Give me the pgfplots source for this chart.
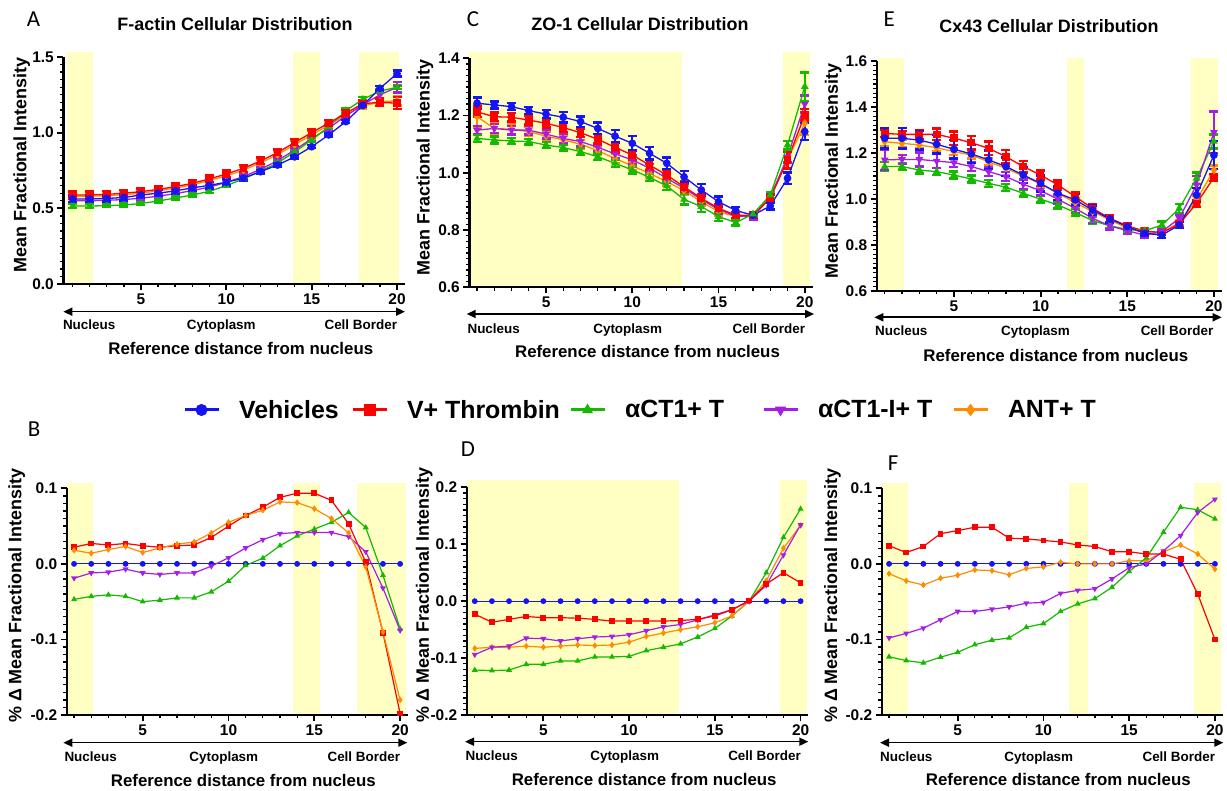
\documentclass[border=0pt]{standalone}
\usepackage{fontspec}
\setmainfont{Liberation Sans}
\newfontfamily\carlito{Carlito}
\usepackage{pgfplots}
\usepackage{pgfplotstable}
\pgfplotsset{compat=1.18}
\usetikzlibrary{arrows.meta}

\definecolor{cveh}{RGB}{20,20,245}
\definecolor{cthr}{RGB}{255,0,0}
\definecolor{cact}{RGB}{20,185,0}
\definecolor{cacti}{RGB}{165,30,230}
\definecolor{cant}{RGB}{255,140,0}
\definecolor{band}{RGB}{255,255,196}

\newcommand\tickfont{\fontsize{15.5}{16}\selectfont\bfseries}
\newcommand\titlefont{\fontsize{18}{20}\selectfont\bfseries}
\newcommand\labfont{\fontsize{16.9}{18}\selectfont\bfseries}
\newcommand\ylabfont{\fontsize{18}{20}\selectfont\bfseries}
\newcommand\regfont{\fontsize{13.5}{15}\selectfont\bfseries}
\newcommand\panelfont{\carlito\fontsize{23}{25}\selectfont}
\newcommand\legfont{\fontsize{25}{27}\selectfont\bfseries}

% top row: mean fractional intensity with error
\pgfplotstableread{
x veh vehE thr thrE act actE acti actiE ant antE
1 0.562 0.022 0.588 0.022 0.515 0.012 0.550 0.015 0.580 0.02
2 0.562 0.022 0.588 0.022 0.515 0.012 0.550 0.015 0.580 0.02
3 0.565 0.02 0.592 0.022 0.518 0.01 0.553 0.015 0.583 0.02
4 0.572 0.02 0.600 0.022 0.522 0.01 0.558 0.015 0.590 0.02
5 0.588 0.02 0.610 0.022 0.532 0.01 0.567 0.015 0.600 0.02
6 0.600 0.02 0.625 0.022 0.548 0.01 0.580 0.015 0.615 0.02
7 0.615 0.02 0.643 0.022 0.568 0.01 0.597 0.015 0.633 0.02
8 0.635 0.02 0.665 0.022 0.588 0.01 0.617 0.015 0.655 0.02
9 0.652 0.02 0.694 0.022 0.612 0.01 0.640 0.015 0.683 0.02
10 0.672 0.02 0.727 0.022 0.650 0.01 0.672 0.015 0.715 0.02
11 0.700 0.015 0.764 0.022 0.695 0.01 0.710 0.015 0.752 0.02
12 0.742 0.012 0.813 0.022 0.745 0.012 0.757 0.015 0.800 0.02
13 0.786 0.01 0.868 0.022 0.800 0.015 0.815 0.015 0.855 0.02
14 0.840 0.01 0.935 0.022 0.872 0.015 0.885 0.015 0.920 0.025
15 0.907 0.01 1.000 0.022 0.952 0.015 0.960 0.015 0.985 0.025
16 0.985 0.01 1.064 0.02 1.040 0.015 1.030 0.015 1.050 0.02
17 1.073 0.01 1.128 0.02 1.145 0.015 1.110 0.015 1.118 0.02
18 1.180 0.01 1.192 0.02 1.220 0.015 1.185 0.015 1.175 0.02
19 1.293 0.015 1.200 0.025 1.275 0.012 1.250 0.02 1.205 0.02
20 1.390 0.02 1.195 0.04 1.300 0.012 1.300 0.035 1.210 0.03
}\tabA

\pgfplotstableread{
x veh vehE thr thrE act actE acti actiE ant antE
1 1.243 0.02 1.213 0.018 1.120 0.012 1.149 0.015 1.196 0.04
2 1.237 0.012 1.196 0.015 1.115 0.012 1.155 0.015 1.155 0.02
3 1.231 0.012 1.194 0.015 1.111 0.01 1.149 0.015 1.152 0.02
4 1.217 0.012 1.184 0.015 1.109 0.01 1.149 0.015 1.144 0.015
5 1.205 0.015 1.173 0.015 1.097 0.01 1.135 0.015 1.128 0.015
6 1.194 0.018 1.158 0.015 1.088 0.01 1.120 0.015 1.115 0.015
7 1.179 0.018 1.140 0.015 1.074 0.012 1.109 0.015 1.100 0.015
8 1.155 0.02 1.117 0.018 1.056 0.012 1.089 0.015 1.077 0.015
9 1.128 0.022 1.089 0.018 1.033 0.012 1.066 0.015 1.050 0.015
10 1.103 0.025 1.062 0.018 1.010 0.012 1.045 0.015 1.024 0.015
11 1.068 0.022 1.027 0.018 0.984 0.012 1.016 0.015 0.998 0.015
12 1.033 0.02 0.992 0.018 0.954 0.015 0.981 0.015 0.969 0.015
13 0.986 0.02 0.951 0.018 0.907 0.018 0.946 0.015 0.938 0.015
14 0.940 0.02 0.911 0.015 0.882 0.018 0.907 0.015 0.899 0.015
15 0.899 0.018 0.876 0.015 0.847 0.015 0.872 0.015 0.864 0.015
16 0.868 0.012 0.852 0.012 0.826 0.01 0.849 0.012 0.847 0.012
17 0.852 0.008 0.852 0.008 0.856 0.008 0.847 0.01 0.849 0.008
18 0.884 0.012 0.911 0.012 0.922 0.01 0.914 0.012 0.917 0.012
19 0.981 0.02 1.045 0.03 1.097 0.015 1.056 0.02 1.045 0.03
20 1.144 0.03 1.202 0.02 1.301 0.05 1.240 0.03 1.173 0.04
}\tabC

\pgfplotstableread{
x veh vehE thr thrE act actE acti actiE ant antE
1 1.264 0.045 1.285 0.015 1.141 0.02 1.170 0.045 1.249 0.02
2 1.264 0.045 1.281 0.015 1.141 0.015 1.172 0.02 1.242 0.015
3 1.256 0.04 1.281 0.02 1.126 0.015 1.172 0.03 1.235 0.015
4 1.238 0.04 1.281 0.025 1.119 0.015 1.165 0.03 1.223 0.015
5 1.216 0.04 1.264 0.03 1.104 0.015 1.158 0.02 1.206 0.015
6 1.196 0.04 1.245 0.03 1.087 0.015 1.141 0.02 1.191 0.015
7 1.170 0.04 1.220 0.03 1.068 0.015 1.119 0.02 1.162 0.015
8 1.141 0.04 1.184 0.03 1.051 0.015 1.097 0.02 1.133 0.015
9 1.104 0.035 1.141 0.025 1.025 0.015 1.064 0.02 1.100 0.015
10 1.068 0.035 1.104 0.02 0.999 0.015 1.036 0.02 1.065 0.015
11 1.025 0.03 1.061 0.02 0.974 0.015 0.999 0.02 1.025 0.015
12 0.996 0.025 1.010 0.02 0.941 0.015 0.959 0.02 0.984 0.02
13 0.952 0.02 0.959 0.02 0.906 0.015 0.916 0.02 0.945 0.015
14 0.913 0.015 0.916 0.015 0.883 0.012 0.883 0.015 0.909 0.012
15 0.880 0.012 0.883 0.012 0.868 0.01 0.862 0.015 0.872 0.012
16 0.851 0.01 0.861 0.01 0.861 0.01 0.843 0.012 0.854 0.01
17 0.843 0.012 0.854 0.01 0.887 0.015 0.858 0.01 0.854 0.01
18 0.887 0.012 0.891 0.012 0.959 0.02 0.916 0.015 0.897 0.012
19 1.017 0.03 0.981 0.015 1.090 0.025 1.061 0.04 0.996 0.02
20 1.191 0.06 1.093 0.015 1.250 0.03 1.290 0.09 1.126 0.02
}\tabE

% bottom row: % change vs vehicles
\pgfplotstableread{
x veh thr act acti ant
1 0 0.022 -0.047 -0.019 0.018
2 0 0.027 -0.043 -0.012 0.014
3 0 0.025 -0.041 -0.011 0.019
4 0 0.027 -0.043 -0.007 0.023
5 0 0.024 -0.050 -0.012 0.015
6 0 0.022 -0.048 -0.014 0.021
7 0 0.024 -0.045 -0.012 0.026
8 0 0.025 -0.045 -0.012 0.029
9 0 0.035 -0.037 -0.003 0.041
10 0 0.050 -0.023 0.008 0.055
11 0 0.064 -0.002 0.021 0.064
12 0 0.075 0.0075 0.032 0.071
13 0 0.088 0.024 0.040 0.082
14 0 0.0935 0.037 0.0415 0.081
15 0 0.0935 0.046 0.0415 0.073
16 0 0.084 0.055 0.0415 0.060
17 0 0.053 0.068 0.036 0.041
18 0 0.002 0.048 0.016 -0.004
19 0 -0.091 -0.015 -0.032 -0.090
20 0 -0.198 -0.086 -0.088 -0.180
}\tabB

\pgfplotstableread{
x veh thr act acti ant
1 0 -0.023 -0.121 -0.094 -0.083
2 0 -0.037 -0.122 -0.081 -0.081
3 0 -0.032 -0.121 -0.079 -0.081
4 0 -0.027 -0.111 -0.065 -0.079
5 0 -0.029 -0.111 -0.066 -0.081
6 0 -0.029 -0.105 -0.070 -0.079
7 0 -0.030 -0.105 -0.066 -0.077
8 0 -0.032 -0.098 -0.063 -0.078
9 0 -0.035 -0.098 -0.062 -0.077
10 0 -0.035 -0.097 -0.059 -0.072
11 0 -0.035 -0.087 -0.052 -0.062
12 0 -0.035 -0.081 -0.045 -0.056
13 0 -0.034 -0.075 -0.041 -0.050
14 0 -0.032 -0.063 -0.033 -0.045
15 0 -0.026 -0.048 -0.024 -0.038
16 0 -0.015 -0.026 -0.015 -0.026
17 0 0.001 0.0 0.0 0.0
18 0 0.030 0.050 0.028 0.036
19 0 0.050 0.112 0.081 0.093
20 0 0.032 0.162 0.134 0.133
}\tabD

\pgfplotstableread{
x veh thr act acti ant
1 0 0.024 -0.123 -0.098 -0.013
2 0 0.015 -0.128 -0.092 -0.0225
3 0 0.023 -0.131 -0.085 -0.028
4 0 0.040 -0.1235 -0.074 -0.019
5 0 0.044 -0.117 -0.063 -0.015
6 0 0.0485 -0.107 -0.063 -0.008
7 0 0.0485 -0.101 -0.060 -0.009
8 0 0.034 -0.098 -0.057 -0.0145
9 0 0.033 -0.084 -0.052 -0.006
10 0 0.031 -0.079 -0.051 -0.004
11 0 0.029 -0.063 -0.039 0.002
12 0 0.025 -0.053 -0.035 0.0
13 0 0.023 -0.046 -0.033 0.0
14 0 0.016 -0.031 -0.020 0.0
15 0 0.016 -0.010 -0.005 0.004
16 0 0.013 0.008 0.0 0.004
17 0 0.013 0.042 0.017 0.016
18 0 0.006 0.075 0.0375 0.025
19 0 -0.040 0.0715 0.068 0.013
20 0 -0.100 0.0595 0.0855 -0.007
}\tabF

\pgfplotsset{
  panel/.style={
    scale only axis, clip=false, axis on top,
    axis x line*=bottom, axis y line*=left,
    axis line style={line width=2.4bp, black, -},
    tick pos=left, tick align=outside,
    major tick length=6bp, minor tick length=3.5bp,
    every major tick/.append style={black, line width=1.8bp},
    every minor tick/.append style={black, line width=1.3bp},
    xtick={5,10,15,20}, xticklabels={5,10,15,20},
    minor xtick={1,...,20},
    minor y tick num=9,
    tick label style={font=\tickfont},
  },
  sveh/.style={color=cveh, mark=*},
  sthr/.style={color=cthr, mark=square*},
  sact/.style={color=cact, mark=triangle*},
  sacti/.style={color=cacti, mark=triangle*, mark options={rotate=180}},
  sant/.style={color=cant, mark=diamond*},
  toppl/.style={line width=1.3bp, mark size=3.2bp,
    /pgfplots/error bars/y dir=both, /pgfplots/error bars/y explicit,
    /pgfplots/error bars/error bar style={line width=2.2bp},
    /pgfplots/error bars/error mark options={rotate=90, line width=2.4bp, mark size=4.5bp}},
  botpl/.style={line width=1.2bp, mark size=2.3bp},
}

\begin{document}
\begin{tikzpicture}
\useasboundingbox (0,0) rectangle (1227bp,791bp);

% ---------- A ----------
\begin{axis}[panel, at={(63.3bp,507bp)}, anchor=south west,
  width=341.4bp, height=227bp, xmin=0.45, xmax=20.45, ymin=0, ymax=1.5,
  ytick={0,0.5,1,1.5}, yticklabels={0.0,0.5,1.0,1.5}]
  \fill[band] (axis cs:0.64,0) rectangle (axis cs:2.21,1.535);
  \fill[band] (axis cs:13.89,0) rectangle (axis cs:15.49,1.535);
  \fill[band] (axis cs:17.77,0) rectangle (axis cs:20.11,1.535);
  \addplot[sant,toppl] table[x=x,y=ant,y error=antE] {\tabA};
  \addplot[sacti,toppl] table[x=x,y=acti,y error=actiE] {\tabA};
  \addplot[sact,toppl] table[x=x,y=act,y error=actE] {\tabA};
  \addplot[sthr,toppl] table[x=x,y=thr,y error=thrE] {\tabA};
  \addplot[sveh,toppl] table[x=x,y=veh,y error=vehE] {\tabA};
\end{axis}

% ---------- C ----------
\begin{axis}[panel, at={(469.3bp,503.7bp)}, anchor=south west,
  width=344.1bp, height=229bp, xmin=0.55, xmax=20.5, ymin=0.6, ymax=1.4,
  ytick={0.6,0.8,1.0,1.2,1.4}, yticklabels={0.6,0.8,1.0,1.2,1.4}]
  \fill[band] (axis cs:0.55,0.6) rectangle (axis cs:12.87,1.423);
  \fill[band] (axis cs:18.76,0.6) rectangle (axis cs:20.3,1.423);
  \addplot[sant,toppl] table[x=x,y=ant,y error=antE] {\tabC};
  \addplot[sacti,toppl] table[x=x,y=acti,y error=actiE] {\tabC};
  \addplot[sthr,toppl] table[x=x,y=thr,y error=thrE] {\tabC};
  \addplot[sveh,toppl] table[x=x,y=veh,y error=vehE] {\tabC};
  \addplot[sact,toppl] table[x=x,y=act,y error=actE] {\tabC};
\end{axis}

% ---------- E ----------
\begin{axis}[panel, at={(876.7bp,500bp)}, anchor=south west,
  width=345bp, height=230bp, xmin=0.54, xmax=20.45, ymin=0.6, ymax=1.6,
  ytick={0.6,0.8,1.0,1.2,1.4,1.6}, yticklabels={0.6,0.8,1.0,1.2,1.4,1.6}]
  \fill[band] (axis cs:0.63,0.6) rectangle (axis cs:2.13,1.614);
  \fill[band] (axis cs:11.5,0.6) rectangle (axis cs:12.52,1.614);
  \fill[band] (axis cs:18.68,0.6) rectangle (axis cs:20.22,1.614);
  \addplot[sant,toppl] table[x=x,y=ant,y error=antE] {\tabE};
  \addplot[sthr,toppl] table[x=x,y=thr,y error=thrE] {\tabE};
  \addplot[sact,toppl] table[x=x,y=act,y error=actE] {\tabE};
  \addplot[sacti,toppl] table[x=x,y=acti,y error=actiE] {\tabE};
  \addplot[sveh,toppl] table[x=x,y=veh,y error=vehE] {\tabE};
\end{axis}

% ---------- B (with legend) ----------
\begin{axis}[panel, at={(66.7bp,76bp)}, anchor=south west,
  width=341.3bp, height=226.7bp, xmin=0.57, xmax=20.46, ymin=-0.2, ymax=0.1,
  ytick={-0.2,-0.1,0,0.1}, yticklabels={-0.2,-0.1,0.0,0.1},
  legend columns=5,
  legend style={at={(0.3408,1.3454)}, anchor=west, draw=none, fill=none,
    inner sep=0pt, outer sep=0pt, font=\legfont,
    nodes={inner sep=0pt},
    /tikz/every odd column/.append style={column sep=19bp}},
  legend image code/.code={
    \draw[#1, line width=3bp, mark=none] (0bp,0bp) -- (34bp,0bp);
    \draw[#1, line width=1bp, mark size=5.5bp] plot coordinates {(17bp,0bp)};
  }]
  \fill[band] (axis cs:0.57,-0.2) rectangle (axis cs:2.12,0.1066);
  \fill[band] (axis cs:13.74,-0.2) rectangle (axis cs:15.33,0.1066);
  \fill[band] (axis cs:17.47,-0.2) rectangle (axis cs:20.35,0.1066);
  \addplot[sveh,botpl] table[x=x,y=veh] {\tabB};
  \addplot[sthr,botpl] table[x=x,y=thr] {\tabB};
  \addplot[sact,botpl] table[x=x,y=act] {\tabB};
  \addplot[sacti,botpl] table[x=x,y=acti] {\tabB};
  \addplot[sant,botpl] table[x=x,y=ant] {\tabB};
  \legend{\makebox[112bp][l]{Vehicles},\makebox[162bp][l]{V+ Thrombin},
    \makebox[137bp][l]{αCT1+ T},\makebox[134bp][l]{αCT1-I+ T},ANT+ T}
\end{axis}

% ---------- D ----------
\begin{axis}[panel, at={(466.7bp,76bp)}, anchor=south west,
  width=341.6bp, height=227.7bp, xmin=0.53, xmax=20.45, ymin=-0.2, ymax=0.2,
  ytick={-0.2,-0.1,0,0.1,0.2}, yticklabels={-0.2,-0.1,0.0,0.1,0.2}]
  \fill[band] (axis cs:0.53,-0.2) rectangle (axis cs:12.91,0.213);
  \fill[band] (axis cs:18.8,-0.2) rectangle (axis cs:20.4,0.213);
  \addplot[sveh,botpl] table[x=x,y=veh] {\tabD};
  \addplot[sact,botpl] table[x=x,y=act] {\tabD};
  \addplot[sant,botpl] table[x=x,y=ant] {\tabD};
  \addplot[sacti,botpl] table[x=x,y=acti] {\tabD};
  \addplot[sthr,botpl] table[x=x,y=thr] {\tabD};
\end{axis}

% ---------- F ----------
\begin{axis}[panel, at={(881.7bp,76bp)}, anchor=south west,
  width=341.6bp, height=226.7bp, xmin=0.57, xmax=20.49, ymin=-0.2, ymax=0.1,
  ytick={-0.2,-0.1,0,0.1}, yticklabels={-0.2,-0.1,0.0,0.1}]
  \fill[band] (axis cs:0.57,-0.2) rectangle (axis cs:2.12,0.1066);
  \fill[band] (axis cs:11.49,-0.2) rectangle (axis cs:12.58,0.1066);
  \fill[band] (axis cs:18.8,-0.2) rectangle (axis cs:20.35,0.1066);
  \addplot[sveh,botpl] table[x=x,y=veh] {\tabF};
  \addplot[sant,botpl] table[x=x,y=ant] {\tabF};
  \addplot[sact,botpl] table[x=x,y=act] {\tabF};
  \addplot[sacti,botpl] table[x=x,y=acti] {\tabF};
  \addplot[sthr,botpl] table[x=x,y=thr] {\tabF};
\end{axis}

% ---------- annotations (pixel coordinates, y down) ----------
\begin{scope}[x=1bp, y=-1bp, shift={(0bp,791bp)}]
  \tikzset{dbl/.style={line width=1.6bp, {Triangle[length=9bp,width=8bp]}-{Triangle[length=9bp,width=8bp]}}}
  % titles
  \node[font=\titlefont, anchor=base] at (235,31) {F-actin Cellular Distribution};
  \node[font=\titlefont, anchor=base] at (640,30.7) {ZO-1 Cellular Distribution};
  \node[font=\titlefont, anchor=base] at (1049,32.7) {Cx43 Cellular Distribution};
  % panel letters
  \node[font=\panelfont, anchor=base west, inner sep=0pt] at (26.7,26.7) {A};
  \node[font=\panelfont, anchor=base west, inner sep=0pt] at (466.7,26.7) {C};
  \node[font=\panelfont, anchor=base west, inner sep=0pt] at (883.3,26.7) {E};
  \node[font=\panelfont, anchor=base west, inner sep=0pt] at (27.7,436.7) {B};
  \node[font=\panelfont, anchor=base west, inner sep=0pt] at (460.7,456.7) {D};
  \node[font=\panelfont, anchor=base west, inner sep=0pt] at (887.7,470.7) {F};
  % y labels
  \node[font=\ylabfont, rotate=90] at (21.7,165) {Mean Fractional Intensity};
  \node[font=\ylabfont, rotate=90] at (425,167.5) {Mean Fractional Intensity};
  \node[font=\ylabfont, rotate=90] at (833.3,171) {Mean Fractional Intensity};
  \node[font=\ylabfont, rotate=90] at (16.7,595.8) {\% Δ Mean Fractional Intensity};
  \node[font=\ylabfont, rotate=90] at (424.2,595) {\% Δ Mean Fractional Intensity};
  \node[font=\ylabfont, rotate=90] at (832.5,595.8) {\% Δ Mean Fractional Intensity};
  % arrows
  \draw[dbl] (63.3,311.7) -- (405,311.7);
  \draw[dbl] (466.7,314) -- (814,314);
  \draw[dbl] (874.3,317.3) -- (1221.7,317.3);
  \draw[dbl] (63.3,742.7) -- (407.3,742.7);
  \draw[dbl] (465,741.7) -- (808.3,741.7);
  \draw[dbl] (880,742.7) -- (1223.3,742.7);
  % region labels
  \foreach \xa/\xb/\xc/\yy in {89.2/221.3/360.8/330, 493.7/627.7/768.8/333.3,
      901.3/1035.5/1177/336, 90.7/223.8/363.8/761.7, 491.7/624.7/764.5/761,
      906.3/1038.8/1178.8/761.7} {
    \node[font=\regfont, anchor=base] at (\xa,\yy) {Nucleus};
    \node[font=\regfont, anchor=base] at (\xb,\yy) {Cytoplasm};
    \node[font=\regfont, anchor=base] at (\xc,\yy) {Cell Border};
  }
  % x labels
  \foreach \xx/\yy in {240.8/355, 647.5/357.3, 1055.8/361.7, 243.3/786.7, 644.2/785.7, 1058.3/786} {
    \node[font=\labfont, anchor=base] at (\xx,\yy) {Reference distance from nucleus};
  }
\end{scope}
\end{tikzpicture}
\end{document}
